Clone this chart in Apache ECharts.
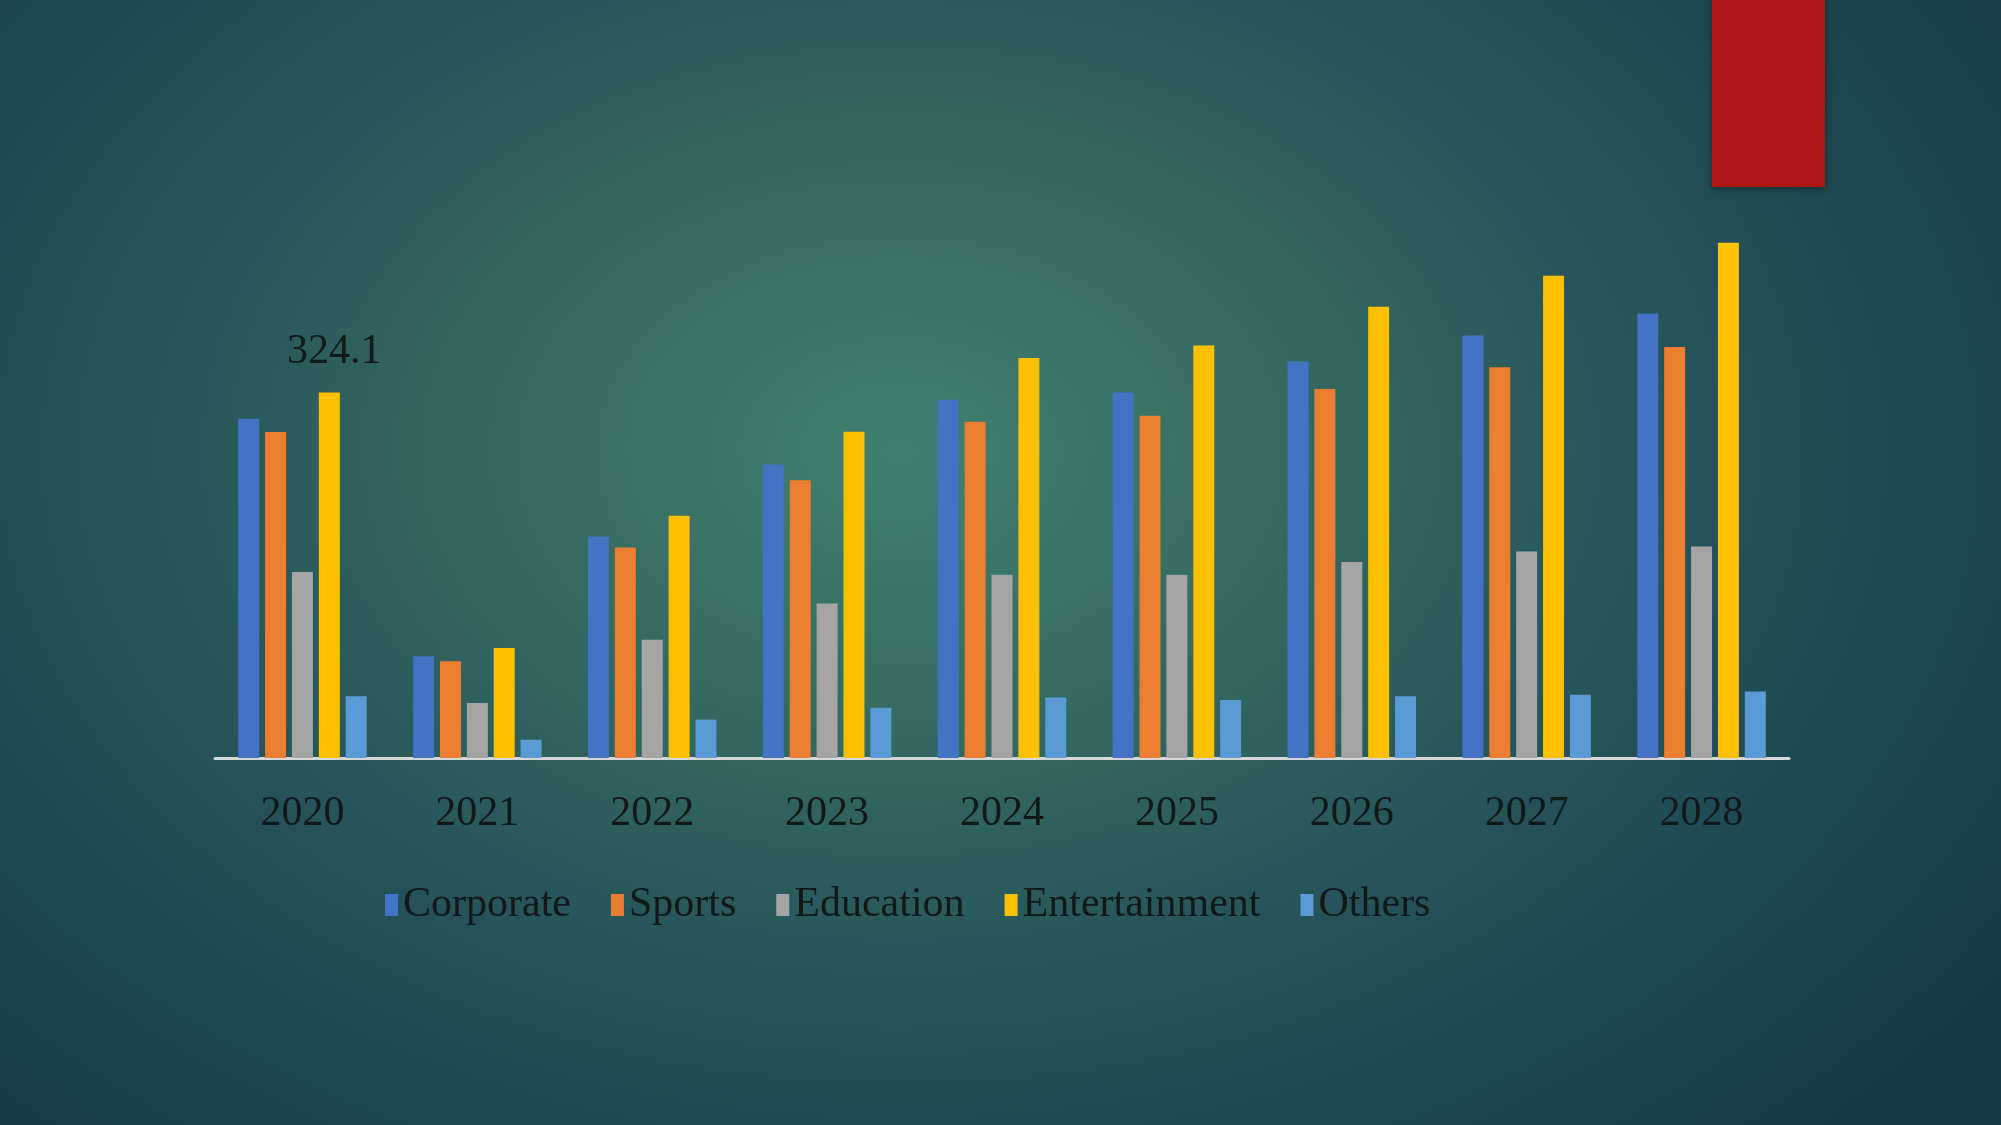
<!DOCTYPE html>
<html>
<head>
<meta charset="utf-8">
<title>Market by application</title>
<script src="https://cdn.jsdelivr.net/npm/echarts@6/dist/echarts.min.js"></script>
<style>
  html, body { margin: 0; padding: 0; }
  #chart {
    width: 2001px;
    height: 1125px;
    background: radial-gradient(ellipse 68% 85% at 45% 40%, #417f71 0%, #356b61 28%, #28575b 52%, #1d4852 76%, #153947 100%);
  }
</style>
</head>
<body>
<div id="chart"></div>
<script>
// categories and series values
const years = ["2020", "2021", "2022", "2023", "2024", "2025", "2026", "2027", "2028"];
const corporate = [300.8, 90.1, 196.4, 260.3, 317.6, 324.1, 351.6, 374.5, 394.0];
const sports = [288.9, 85.7, 186.7, 246.3, 298.2, 303.5, 327.1, 346.3, 364.4];
const education = [164.8, 48.7, 104.9, 136.9, 162.5, 162.5, 173.7, 183.0, 187.5];
const entertainment = [324.1, 97.5, 214.8, 289.3, 354.6, 365.7, 400.0, 427.6, 456.7];
const others = [54.7, 16.2, 34.0, 44.6, 53.6, 51.4, 54.7, 56.0, 59.0];
const seriesNames = ["Corporate", "Sports", "Education", "Entertainment", "Others"];
const labelledPoint = { series: 3, index: 0 }; // the one value written on the chart

const colors = ["#4472C4", "#ED7D31", "#A5A5A5", "#FFC000", "#5B9BD5"];
const textFont = "'Liberation Serif', 'DejaVu Serif', serif";
const textColor = "#121818";

const chart = echarts.init(document.getElementById("chart"));

const allValues = [corporate, sports, education, entertainment, others];
const series = allValues.map((vals, i) => ({
  name: seriesNames[i],
  type: "bar",
  barWidth: 21,
  barGap: "28%",
  data: vals.map((v, j) => {
    if (i === labelledPoint.series && j === labelledPoint.index) {
      return {
        value: v,
        label: {
          show: true,
          position: "top",
          distance: 19,
          offset: [5, 0],
          fontFamily: textFont,
          fontSize: 42,
          lineHeight: 42,
          color: textColor,
        },
      };
    }
    return v;
  }),
}));

const option = {
  animation: false,
  color: colors,
  grid: {
    left: 215,
    right: 212,
    top: 194,
    bottom: 367,
  },
  legend: {
    left: 380,
    top: 879,
    icon: "rect",
    itemWidth: 13,
    itemHeight: 22,
    itemGap: 40,
    textStyle: {
      fontFamily: textFont,
      fontSize: 42,
      color: textColor,
    },
  },
  xAxis: {
    type: "category",
    data: years,
    axisTick: { show: false },
    axisLine: {
      lineStyle: { color: "#d4d8d8", width: 3 },
    },
    axisLabel: {
      margin: 35,
      fontFamily: textFont,
      fontSize: 42,
      lineHeight: 42,
      color: textColor,
    },
  },
  yAxis: {
    type: "value",
    min: 0,
    max: 500,
    show: false,
    splitLine: { show: false },
  },
  graphic: [
    {
      type: "rect",
      shape: { x: 1712, y: -10, width: 113, height: 197 },
      style: {
        fill: "#b01614",
        shadowBlur: 8,
        shadowColor: "rgba(0,0,0,0.45)",
        shadowOffsetY: 2,
      },
      z: 10,
    },
  ],
  series: series,
};

chart.setOption(option);
</script>
</body>
</html>
